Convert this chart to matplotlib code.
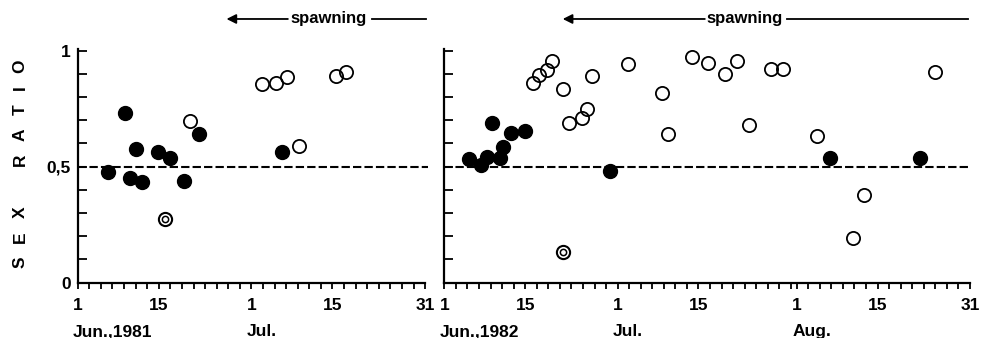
import matplotlib
matplotlib.use('Agg')
import matplotlib.pyplot as plt

plt.rcParams['font.family'] = ['Liberation Sans', 'DejaVu Sans']
plt.rcParams['font.weight'] = 'bold'

# day index: June 1 = 1, July 1 = 31, August 1 = 62
# 1981 panel
filled81_x = [6.3, 9.1, 11.1, 10.0, 12.1, 14.9, 16.9, 19.3, 22.0, 36.2]
filled81_y = [0.478, 0.733, 0.578, 0.450, 0.434, 0.565, 0.536, 0.440, 0.640, 0.565]
open81_x = [20.4, 39.2, 32.9, 35.2, 37.2, 45.6, 47.4]
open81_y = [0.698, 0.588, 0.856, 0.859, 0.887, 0.891, 0.907]
ring81_x = [16.1]
ring81_y = [0.275]

# 1982 panel
filled82_x = [5.2, 7.3, 8.4, 9.3, 10.6, 11.2, 12.5, 14.9, 29.6, 67.8, 83.4]
filled82_y = [0.532, 0.507, 0.543, 0.690, 0.536, 0.585, 0.644, 0.653, 0.483, 0.538, 0.538]
open82_x = [16.4, 17.4, 18.8, 19.7, 21.5, 22.6, 24.8, 25.7, 26.6, 32.8, 38.7, 39.7,
            43.8, 46.7, 49.6, 51.6, 57.5, 59.7, 53.7, 65.6, 73.6, 71.8, 86.0]
open82_y = [0.861, 0.895, 0.917, 0.957, 0.834, 0.687, 0.709, 0.747, 0.891, 0.944, 0.816, 0.641,
            0.974, 0.946, 0.900, 0.954, 0.920, 0.920, 0.678, 0.631, 0.378, 0.194, 0.907]
ring82_x = [21.6]
ring82_y = [0.132]

# months shown on each panel: (name label, offset, days)
months81 = [('Jun.,1981', 0, 30), ('Jul.', 30, 31)]
months82 = [('Jun.,1982', 0, 30), ('Jul.', 30, 31), ('Aug.', 61, 31)]

# spawning arrow: head, text left, text centre, text right, line end
spawn81 = [26.7, 37.3, 44.3, 51.8, 61.1]
spawn82 = [21.5, 46.1, 53.0, 60.3, 91.6]

fig = plt.figure(figsize=(9.84, 3.38), dpi=100)
ax1 = fig.add_axes([77.7 / 984, 55.3 / 338, 350.3 / 984, 234 / 338])
ax2 = fig.add_axes([444.3 / 984, 55.3 / 338, 525.7 / 984, 234 / 338])


def draw_panel(ax, months, fx, fy, ox, oy, rx, ry, spawn, xmax, last_label):
    ax.set_xlim(1, xmax)
    ax.set_ylim(0, 1.008)
    for s in ['top', 'right']:
        ax.spines[s].set_visible(False)
    ax.spines['left'].set_linewidth(1.6)
    ax.spines['bottom'].set_linewidth(1.6)

    # dashed 0.5 line
    ax.axhline(0.5, color='black', lw=1.5, ls=(0, (4, 1.5)), zorder=1)

    ax.plot(fx, fy, 'o', ms=10, color='black', zorder=3, clip_on=False)
    ax.plot(ox, oy, 'o', ms=9.5, mfc='none', mec='black', mew=1.3, zorder=3)
    # double ring marker
    ax.plot(rx, ry, 'o', ms=9.5, mfc='none', mec='black', mew=1.5, zorder=3)
    ax.plot(rx, ry, 'o', ms=4.5, mfc='none', mec='black', mew=1.1, zorder=3)

    # ticks every other day in each month
    minor = []
    major = []
    labels = []
    for name, off, n in months:
        minor += [off + d for d in range(1, n + 1, 2)]
        major += [off + 1, off + 15]
        labels += ['1', '15']
        ax.text(off + 0.2, -0.228, name, transform=ax.get_xaxis_transform(),
                ha='left', va='baseline', fontsize=12.5, fontweight='bold')
    major.append(last_label)
    labels.append('31')
    ax.set_xticks(major)
    ax.set_xticklabels(labels)
    ax.set_xticks(minor, minor=True)
    ax.spines['bottom'].set_bounds(1, last_label)
    ax.tick_params(axis='x', which='both', direction='out', length=4, width=1.3,
                   pad=7, labelsize=12.5)

    ax.set_yticks([i / 10 for i in range(11)])
    ax.tick_params(axis='y', which='both', direction='in', length=6.5, width=1.3,
                   pad=5, labelsize=12.5)

    # spawning arrow
    yy = 1.127
    tr = ax.get_xaxis_transform()
    ax.annotate('', xy=(spawn[0], yy), xytext=(spawn[1], yy), xycoords=tr, textcoords=tr,
                arrowprops=dict(arrowstyle='-|>', color='black', lw=1.3,
                                mutation_scale=14, shrinkA=0, shrinkB=0))
    ax.plot([spawn[3], spawn[4]], [yy, yy], color='black', lw=1.3,
            transform=tr, clip_on=False)
    ax.text(spawn[2], yy, 'spawning', transform=tr, ha='center', va='center',
            fontsize=12, fontweight='bold')


draw_panel(ax1, months81, filled81_x, filled81_y, open81_x, open81_y,
           ring81_x, ring81_y, spawn81, 61.5, 61)
draw_panel(ax2, months82, filled82_x, filled82_y, open82_x, open82_y,
           ring82_x, ring82_y, spawn82, 92, 92)

ax1.set_yticklabels(['0', '', '', '', '', '0,5', '', '', '', '', '1'])
ax2.set_yticklabels([])

# spaced y axis title
letters = ['S', 'E', 'X', 'R', 'A', 'T', 'I', 'O']
letter_y = [262, 237, 212, 160, 135, 110, 88, 66]
for ch, py in zip(letters, letter_y):
    fig.text(20 / 984, 1 - py / 338, ch, rotation=90, ha='center', va='center',
             fontsize=12.5, fontweight='bold')

fig.savefig('out.png', dpi=100)
